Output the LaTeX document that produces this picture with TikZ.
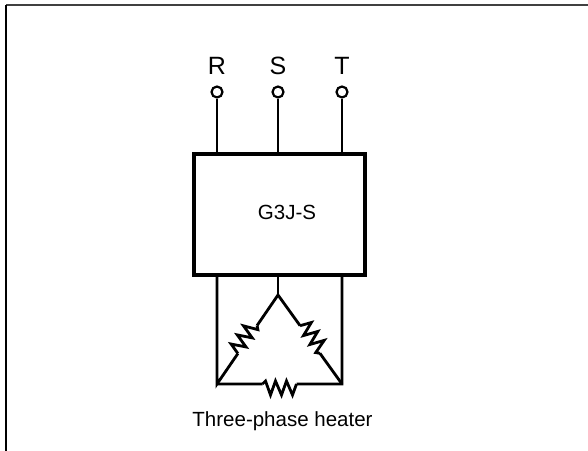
\documentclass[tikz,border=0pt]{standalone}
\usepackage{fontspec}
\setmainfont{Liberation Sans}
\usepackage{tikz}
\usetikzlibrary{positioning,calc}
\tikzset{
  wire/.style={line width=2.8bp, line join=miter},
  frame/.style={line width=1.8bp},
  term/.style={draw, circle, inner sep=0pt, minimum size=11bp, line width=2.2bp, fill=white},
  phase/.style={inner sep=0pt, text depth=0pt, font=\fontsize{25bp}{27bp}\selectfont},
  ssr/.style={draw, line width=3.2bp, minimum width=171bp, minimum height=121bp, inner sep=0pt},
  txt/.style={inner sep=0pt, font=\fontsize{20.5bp}{23bp}\selectfont},
  res/.pic={
    \draw[wire] (-17,0) coordinate (-a) -- (-13,11) -- (-7,-3) -- (-2,11)
      -- (4,-3) -- (9,11) -- (14,-3) -- (17,0) coordinate (-b);
  }
}
\begin{document}
\begin{tikzpicture}[x=1bp, y=1bp]
    \useasboundingbox (0,0) rectangle (588,451);
    % Frame
    \draw[frame, black!75] (588,446) -- (6,446);
    \draw[frame] (6,446) -- (6,0);
    % Terminals
    \node[term] (r) at (217,359) {};
    \node[term] (s) at (278,359) {};
    \node[term] (t) at (342,359) {};
    \node[phase, above=11bp of r] {R};
    \node[phase, above=11bp of s] {S};
    \node[phase, above=11bp of t] {T};
    % Unit
    \node[ssr] (unit) at (279.5,236.5) {};
    \node[txt] (unitname) at (287,239) {G3J-S};
    \draw[wire] (r) -- (r |- unit.north);
    \draw[wire] (s) -- (s |- unit.north);
    \draw[wire] (t) -- (t |- unit.north);
    % Heater (delta)
    \coordinate (bl) at (217,67);
    \coordinate (br) at (342,67);
    \coordinate (apex) at (278,156);
    \pic (rl) [rotate=55.6] at ($(bl)!.5!(apex)$) {res};
    \pic (rr) [rotate=-54.3] at ($(apex)!.5!(br)$) {res};
    \pic (rb) [rotate=180] at ($(br)!.5!(bl)$) {res};
    \draw[wire] (unit.south -| bl) -- (bl) -- (rl-a);
    \draw[wire] (rl-b) -- (apex) -- (rr-a);
    \draw[wire] (unit.south -| apex) -- (apex);
    \draw[wire] (unit.south -| br) -- (br) -- (rb-a);
    \draw[wire] (rr-b) -- (br);
    \draw[wire] (rb-b) -- (bl);
    \node[txt, anchor=base] (heater) at (282.5,24) {Three-phase heater};
\end{tikzpicture}
\end{document}
